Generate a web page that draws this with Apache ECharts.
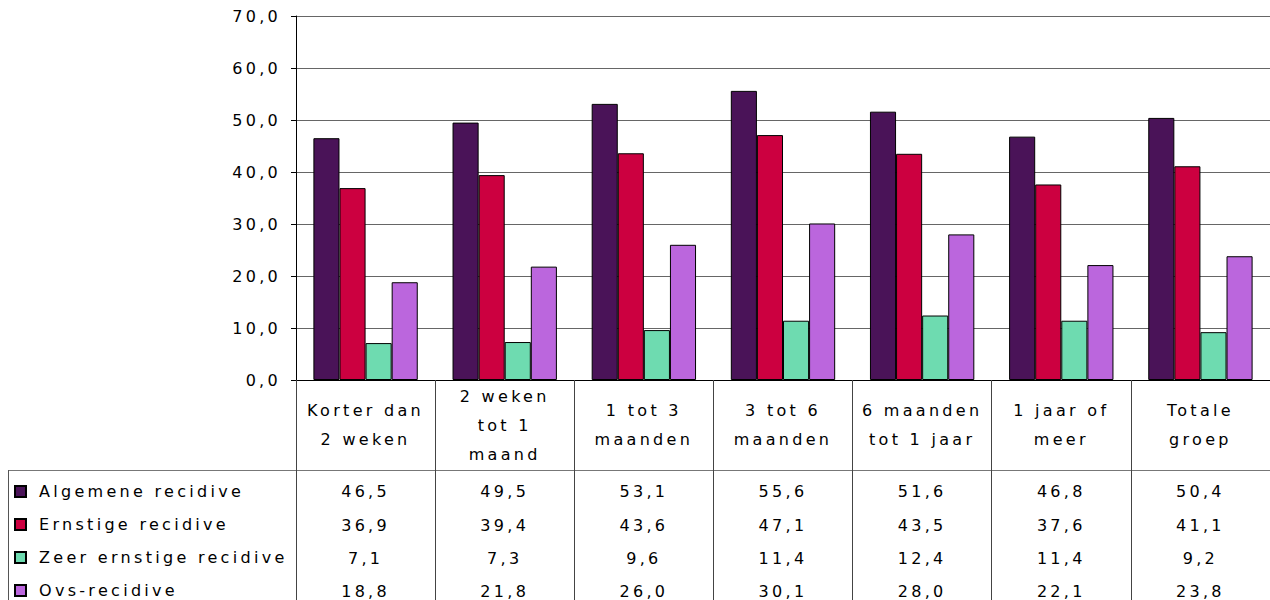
<!DOCTYPE html>
<html>
<head>
<meta charset="utf-8">
<script src="https://cdn.jsdelivr.net/npm/echarts@6/dist/echarts.min.js"></script>
<style>
  html, body { margin: 0; padding: 0; background: #fff; }
  #chart { width: 1270px; height: 600px; }
  #chart text { letter-spacing: 3.3px; }
</style>
</head>
<body>
<div id="chart"></div>
<script>
var categories = ['Korter dan\n2 weken', '2 weken\ntot 1\nmaand', '1 tot 3\nmaanden', '3 tot 6\nmaanden', '6 maanden\ntot 1 jaar', '1 jaar of\nmeer', 'Totale\ngroep'];
var seriesNames = ['Algemene recidive', 'Ernstige recidive', 'Zeer ernstige recidive', 'Ovs-recidive'];
var algemene = [46.5, 49.5, 53.1, 55.6, 51.6, 46.8, 50.4];
var ernstige = [36.9, 39.4, 43.6, 47.1, 43.5, 37.6, 41.1];
var zeerErnstige = [7.1, 7.3, 9.6, 11.4, 12.4, 11.4, 9.2];
var ovs = [18.8, 21.8, 26.0, 30.1, 28.0, 22.1, 23.8];
var yTicks = { min: 0, max: 70, interval: 10 };

var seriesData = [algemene, ernstige, zeerErnstige, ovs];
var colors = ['#4a1358', '#cc0040', '#6edbb0', '#bb66dd'];
var FONT = 'DejaVu Sans';
function fmt(v) { return v.toFixed(1).replace('.', ','); }

var rowOffsets = [111.5, 145, 178, 211];

var xAxes = [{
  type: 'category',
  data: categories,
  gridIndex: 0,
  position: 'bottom',
  axisLine: { show: true, lineStyle: { color: '#000', width: 1 } },
  axisTick: { show: true, length: 220, interval: 0, alignWithLabel: false, lineStyle: { color: '#444' } },
  axisLabel: { interval: 0, margin: 45, verticalAlign: 'middle', lineHeight: 29, color: '#000', fontFamily: FONT, fontSize: 16 },
  splitLine: { show: false }
}];
seriesData.forEach(function (arr, i) {
  xAxes.push({
    type: 'category',
    data: categories,
    gridIndex: 0,
    position: 'bottom',
    offset: rowOffsets[i],
    axisLine: { show: false },
    axisTick: { show: false },
    splitLine: { show: false },
    axisLabel: {
      interval: 0, margin: 0, verticalAlign: 'middle', color: '#000', fontFamily: FONT, fontSize: 16,
      formatter: (function (a) { return function (val, idx) { return fmt(a[idx]); }; })(arr)
    }
  });
});

var chart = echarts.init(document.getElementById('chart'), null, { renderer: 'svg' });
chart.setOption({
  animation: false,
  backgroundColor: '#fff',
  grid: { left: 296, right: 0, top: 16, bottom: 220, containLabel: false },
  legend: {
    orient: 'vertical',
    left: 14,
    top: 481.5,
    width: 280,
    height: 160,
    padding: 0,
    itemGap: 13,
    itemWidth: 11,
    itemHeight: 11,
    icon: 'rect',
    selectedMode: false,
    data: seriesNames,
    textStyle: { color: '#000', fontFamily: FONT, fontSize: 16, lineHeight: 20, padding: [0, 0, 0, 8] }
  },
  xAxis: xAxes,
  yAxis: {
    type: 'value',
    min: yTicks.min,
    max: yTicks.max,
    interval: yTicks.interval,
    axisLine: { show: true, lineStyle: { color: '#000' } },
    axisTick: { show: true, length: 5, inside: false, lineStyle: { color: '#000' } },
    axisLabel: { margin: 15, padding: [5, 0, 0, 0], color: '#000', fontFamily: FONT, fontSize: 16, formatter: function (v) { return fmt(v); } },
    splitLine: { show: true, lineStyle: { color: '#666', width: 1 } }
  },
  series: seriesData.map(function (arr, i) {
    return {
      name: seriesNames[i],
      type: 'bar',
      xAxisIndex: 0,
      data: arr,
      barGap: '0%',
      barCategoryGap: '25%',
      itemStyle: { color: colors[i], borderColor: '#000', borderWidth: 1 }
    };
  }),
  graphic: [
    { type: 'line', shape: { x1: 8, y1: 470.5, x2: 1270, y2: 470.5 }, style: { stroke: '#777', lineWidth: 1 }, silent: true },
    { type: 'line', shape: { x1: 8.5, y1: 470, x2: 8.5, y2: 600 }, style: { stroke: '#555', lineWidth: 1 }, silent: true }
  ]
});
</script>
</body>
</html>
